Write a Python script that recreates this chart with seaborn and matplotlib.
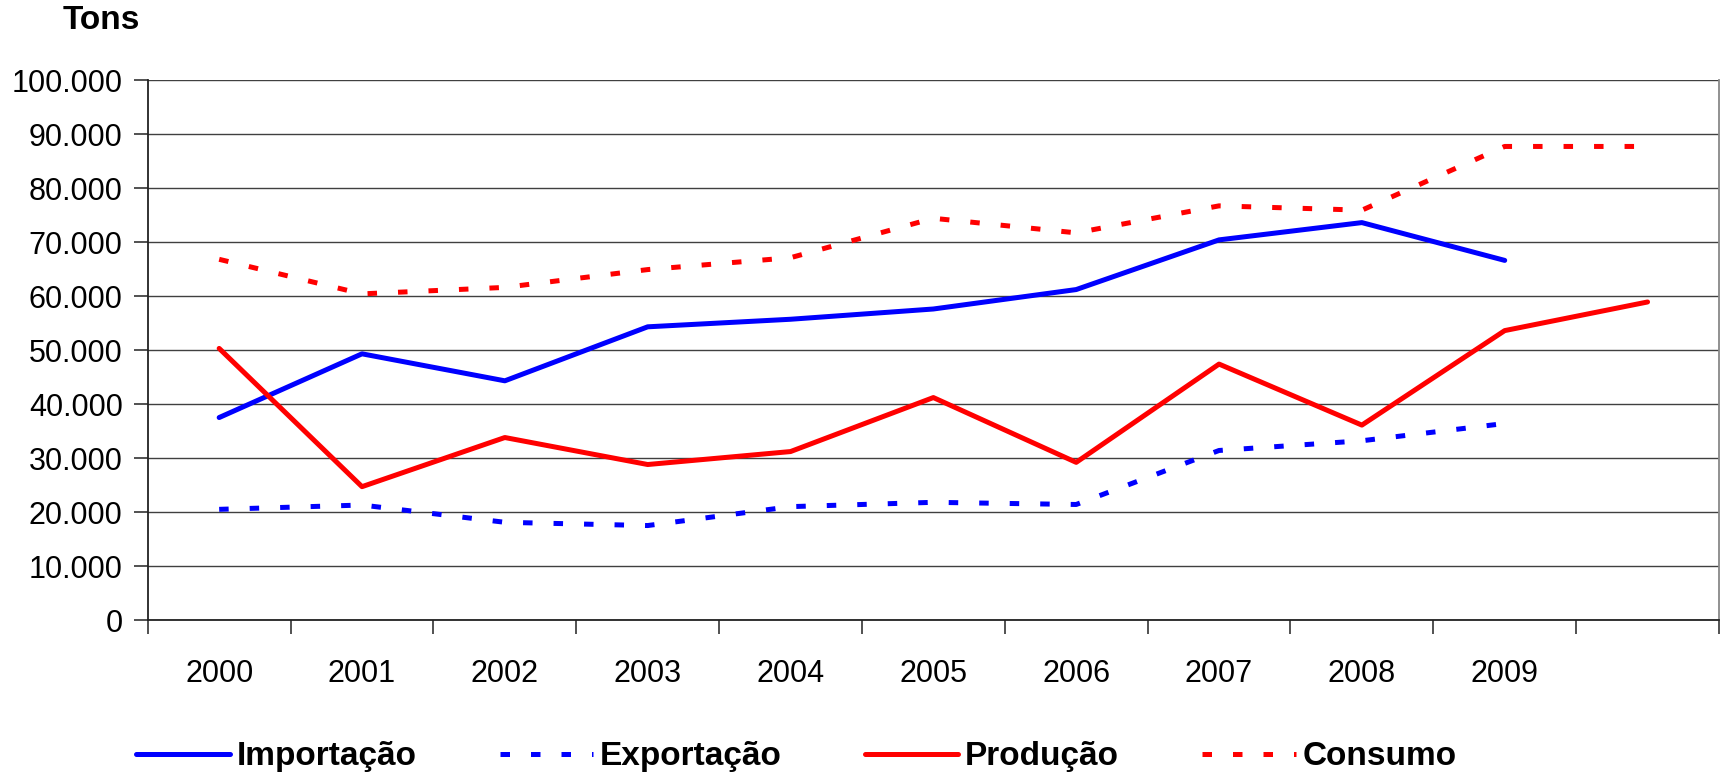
import numpy as np
import pandas as pd
import matplotlib
matplotlib.use("Agg")
import matplotlib.pyplot as plt
from matplotlib.ticker import FuncFormatter, FixedLocator
import seaborn as sns

categories = ["2000", "2001", "2002", "2003", "2004", "2005", "2006", "2007", "2008", "2009", ""]
importacao = [37500, 49300, 44300, 54300, 55700, 57600, 61200, 70400, 73600, 66600]
exportacao = [20500, 21300, 18100, 17500, 21000, 21800, 21400, 31400, 33200, 36400]
producao = [50300, 24700, 33800, 28800, 31200, 41200, 29200, 47400, 36100, 53600, 58900]
consumo = [66800, 60400, 61600, 64900, 67100, 74400, 71700, 76700, 75900, 87700, 87700]
series_names = ["Importação", "Exportação", "Produção", "Consumo"]
yticks = [0, 10000, 20000, 30000, 40000, 50000, 60000, 70000, 80000, 90000, 100000]

sns.set_style("white")
plt.rcParams["font.family"] = ["Liberation Sans", "DejaVu Sans"]
plt.rcParams["text.color"] = "black"
plt.rcParams["xtick.color"] = "black"
plt.rcParams["ytick.color"] = "black"
plt.rcParams["xtick.labelcolor"] = "black"
plt.rcParams["ytick.labelcolor"] = "black"

rows = []
for name, vals in zip(series_names, [importacao, exportacao, producao, consumo]):
    for i, v in enumerate(vals):
        rows.append({"serie": name, "pos": i, "valor": v})
df = pd.DataFrame(rows)

fig = plt.figure(figsize=(17.2, 7.77), dpi=100)
ax = fig.add_axes([0.0859, 0.202, 0.9135, 0.695])

dots = (0, (1.9, 4.2))
styles = {
    "Importação": dict(color="#0000FF", ls="-"),
    "Exportação": dict(color="#0000FF", ls=dots),
    "Produção": dict(color="#FF0000", ls="-"),
    "Consumo": dict(color="#FF0000", ls=dots),
}
for name in series_names:
    sub = df[df["serie"] == name]
    st = styles[name]
    sns.lineplot(data=sub, x="pos", y="valor", ax=ax, color=st["color"],
                 linestyle=st["ls"], linewidth=3.6, label=name,
                 solid_capstyle="round", dash_capstyle="butt", legend=False)

ax.set_xlim(-0.5, len(categories) - 0.5)
ax.set_ylim(0, 100000)
ax.set_yticks(yticks)
ax.yaxis.set_major_formatter(FuncFormatter(lambda v, p: f"{int(v):,}".replace(",", ".")))
ax.grid(axis="y", color="#404040", linewidth=1.0)
ax.grid(axis="x", visible=False)
ax.set_axisbelow(True)

ax.xaxis.set_major_locator(FixedLocator(np.arange(-0.5, len(categories), 1.0)))
ax.xaxis.set_minor_locator(FixedLocator(np.arange(0, len(categories), 1.0)))
ax.set_xticklabels([])
ax.set_xticklabels(categories, minor=True)
ax.tick_params(axis="x", which="major", bottom=True, length=10, width=1.2, color="#333333", direction="out")
ax.tick_params(axis="x", which="minor", bottom=True, length=0, pad=28, labelsize=22, labelcolor="black")
ax.tick_params(axis="y", left=True, length=10, width=1.2, color="#333333", direction="out",
               labelsize=22, pad=8, labelcolor="black")
ax.set_xlabel("")
ax.set_ylabel("")

for s in ["left", "bottom"]:
    ax.spines[s].set_color("#222222")
    ax.spines[s].set_linewidth(1.3)
ax.spines["top"].set_visible(False)
ax.spines["right"].set_color("#888888")
ax.spines["right"].set_linewidth(1.3)

fig.text(0.0366, 0.974, "Tons", fontsize=24, fontweight="bold", va="center", ha="left", color="black")

handles, labels = ax.get_legend_handles_labels()
leg = fig.legend(handles, labels, loc="center", bbox_to_anchor=(0.463, 0.026), ncol=4,
                 frameon=False, prop={"size": 24, "weight": "bold"},
                 handlelength=2.8, handletextpad=0.2, columnspacing=2.5)
for t in leg.get_texts():
    t.set_color("black")

fig.savefig("out.png", dpi=100)
